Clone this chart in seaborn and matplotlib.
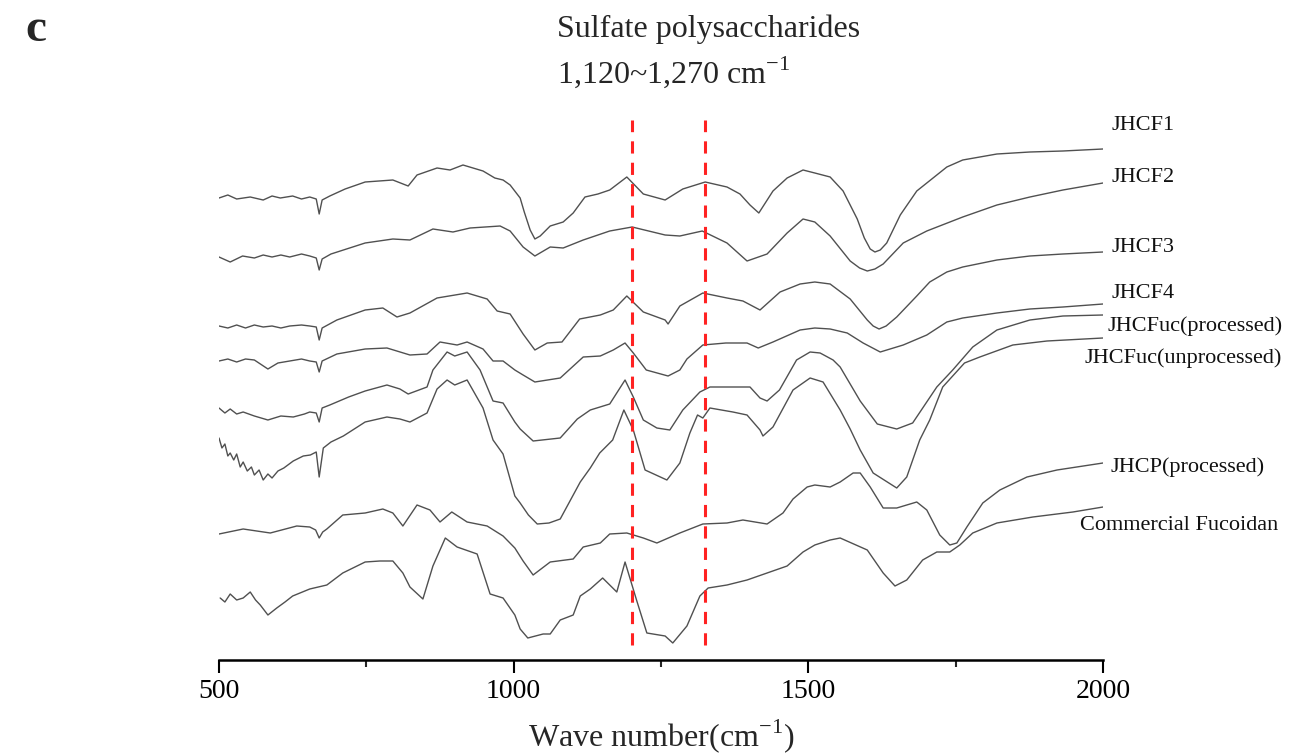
import matplotlib
matplotlib.use("Agg")
import matplotlib.pyplot as plt
import pandas as pd
import seaborn as sns

# ---------------------------------------------------------------------------
# FT-IR spectra (transmittance, arbitrary offset units) vs wave number (cm-1)
# ---------------------------------------------------------------------------
wn_jhcf1 = [500, 515, 530, 553, 575, 590, 604, 625, 640, 654, 665, 670, 675, 688, 714, 748, 795, 821,
            836, 870, 892, 914, 948, 968, 982, 994, 1011, 1018, 1028, 1036, 1045, 1062, 1084, 1101,
            1121, 1143, 1163, 1192, 1220, 1257, 1287, 1325, 1362, 1384, 1401, 1416, 1440, 1464,
            1491, 1511, 1537, 1559, 1583, 1595, 1605, 1613, 1622, 1633, 1656, 1684, 1718, 1735,
            1762, 1820, 1876, 1932, 2000]
t_jhcf1 = [502, 505, 501, 503, 500, 504, 502, 504, 501, 503, 501, 486, 500, 504, 511, 518, 520, 514,
           525, 532, 530, 535, 529, 522, 520, 515, 502, 488, 470, 461, 464, 474, 478, 487,
           503, 506, 510, 523, 506, 500, 511, 518, 513, 506, 495, 487, 509, 522,
           530, 527, 523, 509, 481, 462, 451, 448, 450, 457, 485, 509, 525, 533,
           540, 546, 548, 549, 551]

wn_jhcf2 = [500, 519, 540, 560, 575, 590, 605, 620, 640, 654, 665, 670, 675, 690, 748, 795, 824, 863,
            897, 926, 977, 994, 1016, 1036, 1062, 1084, 1118, 1163, 1201, 1257, 1282, 1320, 1362,
            1396, 1430, 1464, 1491, 1511, 1537, 1571, 1587, 1600, 1613, 1627, 1661, 1701, 1762,
            1820, 1876, 1932, 2000]
t_jhcf2 = [443, 438, 444, 442, 445, 443, 445, 443, 446, 444, 442, 430, 441, 446, 457, 461, 460, 471,
           468, 472, 474, 469, 453, 444, 453, 452, 460, 469, 473, 465, 464, 469, 457,
           439, 446, 467, 481, 478, 464, 439, 432, 429, 431, 436, 457, 469, 483,
           495, 503, 510, 517]

wn_jhcf3 = [500, 515, 530, 545, 560, 575, 590, 605, 620, 640, 654, 665, 670, 675, 700, 748, 778, 802,
            824, 870, 921, 955, 972, 994, 1016, 1036, 1057, 1082, 1112, 1147, 1169, 1192, 1220,
            1257, 1262, 1282, 1321, 1362, 1389, 1418, 1452, 1486, 1511, 1537, 1571, 1600, 1610,
            1620, 1632, 1650, 1684, 1706, 1735, 1762, 1820, 1876, 1932, 2000]
t_jhcf3 = [374, 372, 375, 372, 375, 373, 374, 372, 374, 375, 374, 373, 360, 372, 380, 390, 392, 383,
           387, 402, 407, 401, 389, 386, 366, 350, 357, 358, 381, 385, 390, 404, 388,
           380, 376, 394, 407, 402, 399, 390, 408, 416, 418, 416, 401, 380, 374,
           371, 374, 383, 404, 418, 428, 433, 440, 444, 446, 448]

wn_jhcf4 = [500, 515, 530, 545, 560, 583, 600, 620, 640, 654, 665, 670, 675, 700, 748, 785, 824, 853,
            875, 904, 921, 948, 965, 982, 1002, 1016, 1036, 1079, 1118, 1147, 1169, 1189, 1203,
            1225, 1262, 1282, 1294, 1321, 1360, 1396, 1415, 1440, 1486, 1511, 1537, 1566, 1593,
            1622, 1661, 1701, 1735, 1762, 1820, 1876, 1932, 2000]
t_jhcf4 = [339, 341, 338, 341, 340, 331, 337, 339, 341, 339, 338, 328, 339, 346, 351, 352, 345, 346,
           358, 355, 358, 351, 339, 339, 330, 325, 318, 322, 343, 344, 350, 357, 347,
           330, 324, 330, 341, 355, 357, 357, 352, 358, 370, 372, 371, 367, 357,
           348, 355, 365, 378, 382, 387, 391, 393, 396]

wn_fuc_proc = [500, 510, 519, 530, 541, 560, 583, 605, 626, 645, 654, 665, 670, 675, 688, 720, 748,
               785, 807, 821, 853, 863, 887, 900, 921, 943, 965, 982, 1002, 1011, 1033, 1079, 1108,
               1130, 1163, 1189, 1203, 1220, 1243, 1265, 1287, 1316, 1333, 1384, 1401, 1418, 1430,
               1451, 1480, 1503, 1520, 1542, 1554, 1588, 1617, 1650, 1677, 1718, 1745, 1779, 1820,
               1876, 1932, 2000]
t_fuc_proc = [292, 287, 291, 286, 288, 284, 280, 284, 283, 286, 288, 287, 278, 292, 295, 303, 309,
              315, 311, 306, 313, 330, 348, 344, 348, 330, 299, 297, 278, 271, 259, 262, 281,
              290, 296, 320, 303, 280, 272, 270, 290, 308, 313, 313, 313, 302, 299,
              310, 340, 348, 347, 340, 333, 299, 276, 271, 277, 313, 330, 353, 370,
              380, 384, 385]

wn_fuc_unproc = [500, 505, 510, 515, 519, 525, 530, 536, 541, 548, 555, 560, 568, 575, 583, 590, 600,
                 610, 626, 643, 655, 665, 670, 677, 690, 711, 748, 785, 807, 824, 853, 870, 887,
                 900, 921, 948, 965, 982, 1002, 1011, 1025, 1040, 1060, 1079, 1113, 1130, 1146,
                 1168, 1187, 1203, 1223, 1260, 1282, 1299, 1312, 1321, 1333, 1372, 1396, 1418,
                 1423, 1440, 1474, 1503, 1525, 1554, 1571, 1588, 1610, 1650, 1667, 1689, 1706,
                 1728, 1765, 1791, 1847, 1905, 2000]
t_fuc_unproc = [262, 252, 256, 244, 247, 240, 246, 233, 238, 229, 233, 225, 230, 220, 226, 222, 229,
                232, 239, 244, 245, 248, 223, 252, 258, 264, 278, 283, 281, 278, 287, 311, 320,
                315, 320, 292, 260, 246, 204, 197, 185, 176, 177, 181, 218, 232, 247,
                260, 290, 270, 230, 220, 237, 267, 285, 282, 292, 288, 285, 270,
                264, 273, 310, 322, 318, 290, 271, 250, 227, 212, 223, 260, 280,
                313, 337, 343, 355, 359, 362]

wn_jhcp = [500, 541, 587, 632, 654, 664, 670, 676, 683, 710, 748, 778, 795, 812, 836, 858, 875, 895,
           921, 955, 982, 1002, 1016, 1033, 1062, 1101, 1118, 1147, 1163, 1192, 1220, 1243, 1282,
           1321, 1362, 1389, 1430, 1457, 1474, 1498, 1511, 1537, 1554, 1576, 1588, 1605, 1627,
           1650, 1684, 1701, 1723, 1740, 1752, 1769, 1796, 1825, 1871, 1922, 2000]
t_jhcp = [166, 171, 167, 174, 173, 170, 162, 168, 171, 185, 187, 191, 187, 174, 195, 190, 178, 188,
          178, 174, 164, 152, 139, 125, 138, 141, 153, 157, 166, 167, 162, 157, 167,
          176, 177, 180, 176, 187, 201, 213, 215, 213, 218, 227, 227, 213, 192,
          192, 198, 190, 165, 155, 157, 173, 197, 210, 223, 230, 237]

wn_commercial = [502, 510, 519, 530, 541, 553, 562, 570, 583, 598, 612, 625, 654, 683, 710, 748, 773,
                 795, 812, 824, 846, 863, 884, 904, 938, 960, 982, 1002, 1011, 1024, 1050, 1062,
                 1079, 1101, 1113, 1130, 1151, 1175, 1189, 1209, 1226, 1257, 1270, 1294, 1316,
                 1330, 1362, 1396, 1430, 1464, 1491, 1511, 1537, 1554, 1600, 1627, 1647, 1667,
                 1694, 1718, 1740, 1757, 1779, 1820, 1881, 1949, 2000]
t_commercial = [102, 98, 106, 100, 102, 108, 100, 95, 85, 92, 98, 104, 111, 115, 127, 138, 139,
                139, 127, 113, 101, 134, 162, 153, 146, 106, 102, 85, 71, 62, 66, 66,
                80, 85, 104, 111, 122, 108, 138, 99, 67, 64, 57, 74, 104,
                112, 115, 120, 127, 134, 148, 155, 160, 162, 150, 127, 114, 120,
                140, 148, 148, 155, 167, 177, 183, 188, 193]

sample_names = ["JHCF1", "JHCF2", "JHCF3", "JHCF4", "JHCFuc(processed)",
                "JHCFuc(unprocessed)", "JHCP(processed)", "Commercial Fucoidan"]

# sulfate band markers (cm-1)
marker_wn = [1200, 1325]

tick_major = [500, 1000, 1500, 2000]
tick_minor = [750, 1250, 1750]

spectra = [(wn_jhcf1, t_jhcf1), (wn_jhcf2, t_jhcf2), (wn_jhcf3, t_jhcf3), (wn_jhcf4, t_jhcf4),
           (wn_fuc_proc, t_fuc_proc), (wn_fuc_unproc, t_fuc_unproc), (wn_jhcp, t_jhcp),
           (wn_commercial, t_commercial)]

df = pd.concat(
    [pd.DataFrame({"wavenumber": w, "T": t, "sample": n})
     for n, (w, t) in zip(sample_names, spectra)],
    ignore_index=True,
)

# ---------------------------------------------------------------------------
sns.set_theme(style="white")
plt.rcParams["font.family"] = ["Liberation Serif", "DejaVu Serif"]
plt.rcParams["mathtext.fontset"] = "custom"
plt.rcParams["mathtext.rm"] = "Liberation Serif"

W, H = 1298, 755
fig = plt.figure(figsize=(W / 100, H / 100), dpi=100)
ax = fig.add_axes([219 / W, 95 / H, 884 / W, 550 / H])

sns.lineplot(data=df, x="wavenumber", y="T", hue="sample", units="sample",
             estimator=None, sort=False, legend=False,
             palette={n: "#505050" for n in sample_names}, linewidth=1.0, ax=ax)

ax.vlines(marker_wn, 55, 580, colors="#ff2222", linestyles=(0, (4, 3)), linewidth=2.2, zorder=3)

ax.set_xlim(500, 2000)
ax.set_ylim(40, 590)
for side in ("left", "top", "right"):
    ax.spines[side].set_visible(False)
ax.spines["bottom"].set_linewidth(1.8)
ax.spines["bottom"].set_color("black")
ax.set_yticks([])
ax.set_ylabel("")
ax.set_xticks(tick_major)
ax.set_xticks(tick_minor, minor=True)
ax.tick_params(axis="x", which="major", direction="out", length=9, width=1.5,
               labelsize=20, pad=5, colors="black", bottom=True)
ax.tick_params(axis="x", which="minor", direction="out", length=5, width=1.5, bottom=True)
ax.set_xlabel("Wave number(cm$^{\\mathregular{-1}}$)", fontsize=23, labelpad=9)

# curve names at the right end
label_specs = [
    ("JHCF1", 2015, 575, "left"),
    ("JHCF2", 2015, 523, "left"),
    ("JHCF3", 2015, 453, "left"),
    ("JHCF4", 2015, 407, "left"),
    ("JHCFuc(processed)", 2304, 374, "right"),
    ("JHCFuc(unprocessed)", 2304, 342, "right"),
    ("JHCP(processed)", 2012, 233, "left"),
    ("Commercial Fucoidan", 2297, 175, "right"),
]
for text, x, y, ha in label_specs:
    ax.text(x, y, text, fontsize=16, ha=ha, va="center", clip_on=False, color="#111111")

fig.text(557 / W, 1 - 29 / H, "Sulfate polysaccharides", fontsize=23, ha="left", va="center")
fig.text(557 / W, 1 - 72 / H, "1,120~1,270 cm$^{\\mathregular{-1}}$", fontsize=23,
         ha="left", va="center")
fig.text(25 / W, 1 - 30 / H, "c", fontsize=34, fontweight="bold", ha="left", va="center")

fig.savefig("out.png", dpi=100)
